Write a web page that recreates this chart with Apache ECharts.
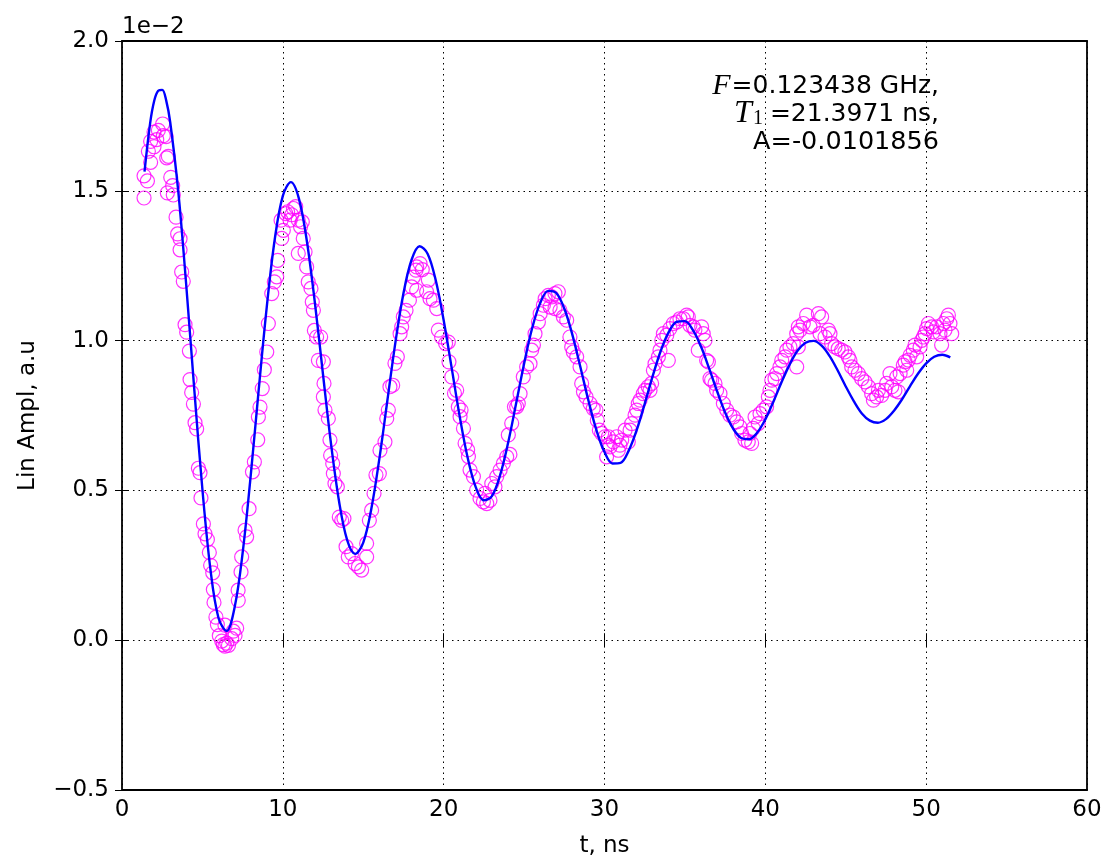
<!DOCTYPE html>
<html>
<head>
<meta charset="utf-8">
<script src="https://cdn.jsdelivr.net/npm/echarts@6/dist/echarts.min.js"></script>
<style>
html,body{margin:0;padding:0;background:#fff;}
#chart{width:1106px;height:859px;}
</style>
</head>
<body>
<div id="chart"></div>
<script>
// Measured data (values in units of 1e-2)
const dataT = [
1.37,1.37,1.58,1.64,1.78,1.78,1.99,1.99,2.16,2.26,2.53,2.57,2.74,2.78,2.82,2.88,3.03,3.15,3.19,3.36,3.46,3.61,3.61,3.71,3.81,3.92,4.02,4.19,4.23,4.33,4.44,4.54,4.64,4.75,4.85,4.91,5.06,5.16,5.31,5.43,5.51,5.64,5.68,5.72,5.84,5.93,6.05,6.20,6.30,
6.40,6.40,6.51,6.62,6.82,6.92,7.03,7.13,7.22,7.23,7.40,7.44,7.65,7.75,7.90,8.11,8.23,8.44,8.48,8.58,8.72,8.85,9.00,9.10,9.31,9.47,9.62,9.68,9.89,9.93,10.03,10.18,10.30,10.45,10.55,10.66,10.80,10.96,10.96,11.10,11.21,11.27,11.38,11.48,11.58,11.75,11.83,11.90,11.96,12.10,12.21,
12.35,12.52,12.56,12.52,12.62,12.83,12.93,12.97,13.10,13.14,13.24,13.39,13.51,13.66,13.80,13.93,14.07,14.28,14.49,14.70,14.90,15.21,15.21,15.38,15.52,15.67,15.79,16.00,16.04,16.35,16.46,16.56,16.66,16.83,16.97,17.12,17.29,17.39,17.49,17.66,17.87,18.01,18.12,18.28,
18.32,18.53,18.67,18.32,18.94,19.05,19.15,19.36,19.57,19.67,19.87,20.12,20.29,20.33,20.50,20.67,20.81,20.91,21.02,21.08,21.23,21.33,21.49,21.54,21.64,21.85,22.05,22.26,22.47,22.57,22.68,22.88,22.99,23.19,23.30,23.51,23.71,23.92,24.02,24.12,24.23,24.40,
24.54,24.64,24.75,24.95,25.16,25.37,25.47,25.58,25.68,25.89,26.00,26.20,26.31,26.51,26.62,26.72,26.92,26.92,27.13,27.23,27.44,27.65,27.85,27.96,28.06,28.27,28.48,28.58,28.69,28.85,29.10,29.30,29.47,29.55,29.68,29.82,30.03,30.13,30.23,
30.24,30.34,30.55,30.76,30.86,30.96,31.07,31.28,31.48,31.59,31.69,31.90,32.00,32.10,32.21,32.41,32.52,32.72,32.83,32.93,33.04,33.14,33.35,33.45,33.56,33.66,33.87,33.97,34.07,34.28,34.49,34.69,34.90,35.11,35.21,35.31,35.52,35.62,35.83,
36.04,36.14,36.25,36.35,36.46,36.56,36.66,36.87,36.97,37.18,37.39,37.60,37.80,38.01,38.22,38.42,38.53,38.73,38.94,39.04,39.15,39.25,39.36,39.56,39.67,39.87,40.08,40.19,40.29,40.40,40.60,40.71,40.91,41.02,41.22,41.33,41.53,41.74,41.95,42.05,
41.95,42.05,42.16,42.36,42.57,42.78,42.98,43.30,43.40,43.50,43.71,43.92,44.02,44.12,44.33,44.53,44.74,44.95,45.16,45.26,45.37,45.57,45.78,45.99,46.20,46.41,46.61,46.72,46.92,47.03,47.23,47.44,47.54,
47.75,47.86,48.06,48.17,48.27,48.38,48.58,48.69,48.79,48.89,49.00,49.20,49.31,49.41,49.62,49.72,49.83,49.93,50.03,50.14,50.34,50.45,50.65,50.86,50.96,51.07,51.17,51.28,51.38,51.48,51.59
];
const dataY = [
1.550,1.476,1.533,1.632,1.595,1.665,1.647,1.696,1.671,1.702,1.723,1.684,1.681,1.610,1.493,1.615,1.545,1.517,1.486,1.412,1.356,1.340,1.303,1.229,1.198,1.053,1.028,0.965,0.870,0.827,0.788,0.726,0.705,0.574,0.559,0.475,0.388,0.355,0.336,0.293,0.250,0.225,0.169,0.126,0.077,0.052,0.015,-0.003,-0.015,
0.050,-0.020,-0.010,-0.017,0.005,0.030,0.016,0.040,0.167,0.133,0.228,0.278,0.367,0.345,0.439,0.562,0.595,0.669,0.745,0.778,0.840,0.903,0.962,1.057,1.157,1.196,1.213,1.268,1.402,1.341,1.368,1.424,1.430,1.402,1.420,1.441,1.447,1.402,1.291,1.380,1.396,1.341,1.296,1.246,1.196,1.174,1.129,1.101,1.034,1.012,0.934,
1.012,0.929,0.857,0.812,0.768,0.740,0.668,0.617,0.590,0.556,0.523,0.512,0.411,0.400,0.406,0.312,0.278,0.289,0.256,0.245,0.234,0.278,0.323,0.400,0.434,0.490,0.551,0.556,0.634,0.662,0.740,0.768,0.846,0.851,0.924,0.946,1.023,1.046,1.079,1.101,1.135,1.179,1.212,1.235,
1.246,1.257,1.237,1.168,1.163,1.202,1.140,1.135,1.107,1.035,1.012,0.990,0.995,0.929,0.879,0.824,0.834,0.779,0.746,0.768,0.707,0.657,0.635,0.613,0.568,0.546,0.501,0.473,0.462,0.490,0.456,0.467,0.523,0.512,0.546,0.568,0.590,0.612,0.685,0.620,0.724,0.779,
0.779,0.790,0.823,0.879,0.912,0.923,0.968,0.985,1.023,1.062,1.090,1.118,1.140,1.151,1.112,1.146,1.157,1.107,1.163,1.101,1.079,1.068,1.012,0.979,0.962,0.946,0.912,0.857,0.829,0.812,0.790,0.773,0.768,0.734,0.701,0.690,0.679,0.612,0.651,
0.679,0.645,0.662,0.679,0.634,0.651,0.668,0.701,0.662,0.701,0.723,0.751,0.768,0.790,0.801,0.823,0.834,0.846,0.834,0.857,0.901,0.923,0.946,0.968,1.001,1.023,1.018,0.934,1.040,1.057,1.062,1.073,1.073,1.085,1.079,1.051,1.046,1.035,0.968,
1.046,1.023,1.001,0.934,0.929,0.873,0.868,0.857,0.834,0.823,0.790,0.768,0.751,0.745,0.729,0.712,0.690,0.668,0.662,0.690,0.657,0.707,0.745,0.723,0.756,0.768,0.779,0.812,0.834,0.868,0.873,0.890,0.912,0.934,0.946,0.968,0.979,0.990,1.023,1.046,
0.912,0.979,1.035,1.057,1.085,1.046,1.051,1.090,1.023,1.079,1.012,1.035,1.023,0.990,0.979,0.973,0.968,0.962,0.946,0.934,0.912,0.901,0.890,0.873,0.862,0.846,0.823,0.801,0.812,0.834,0.817,0.834,0.857,
0.890,0.846,0.834,0.879,0.829,0.890,0.918,0.929,0.901,0.935,0.951,0.968,0.985,0.946,0.979,1.001,1.012,1.023,1.040,1.057,1.046,1.029,1.046,1.023,0.985,1.057,1.035,1.073,1.085,1.057,1.023
];
// Fit curve
const fitT = [1.4,1.75,2.0,2.25,2.5,2.75,3.0,3.5,4.0,4.5,5.0,5.5,6.0,6.5,7.0,7.5,8.0,8.5,9.0,9.5,10.0,10.5,11.0,11.5,12.0,12.5,13.0,13.5,14.0,14.5,15.0,15.5,16.0,16.5,17.0,17.5,18.0,18.5,19.0,19.5,20.0,20.5,21.0,21.5,22.0,22.5,23.0,23.5,24.0,24.5,25.0,25.5,26.0,26.5,27.0,27.5,28.0,28.5,29.0,29.5,30.0,30.5,31.0,31.5,32.0,32.5,33.0,33.5,34.0,34.5,35.0,35.5,36.0,36.5,37.0,37.5,38.0,38.5,39.0,39.5,40.0,40.5,41.0,41.5,42.0,42.5,43.0,43.5,44.0,44.5,45.0,45.5,46.0,46.5,47.0,47.5,48.0,48.5,49.0,49.5,50.0,50.5,51.0,51.5];
const fitY = [1.564,1.726,1.800,1.834,1.837,1.801,1.728,1.497,1.181,0.833,0.503,0.236,0.074,0.031,0.109,0.291,0.548,0.836,1.112,1.339,1.483,1.529,1.474,1.330,1.123,0.886,0.654,0.462,0.334,0.288,0.326,0.438,0.605,0.800,0.994,1.158,1.269,1.315,1.290,1.203,1.068,0.908,0.746,0.607,0.510,0.467,0.481,0.549,0.657,0.789,0.923,1.041,1.125,1.166,1.159,1.107,1.020,0.912,0.800,0.701,0.628,0.590,0.592,0.632,0.701,0.789,0.882,0.966,1.029,1.063,1.065,1.035,0.980,0.908,0.831,0.760,0.706,0.675,0.671,0.693,0.737,0.796,0.860,0.919,0.966,0.993,0.999,0.983,0.948,0.900,0.847,0.798,0.757,0.733,0.726,0.738,0.766,0.804,0.848,0.890,0.924,0.946,0.953,0.944];

const xLabel = 't, ns';
const yLabel = 'Lin Ampl, a.u';
const offsetText = '1e\u22122';

const FONT = 'DejaVu Sans';
const chart = echarts.init(document.getElementById('chart'), null, {renderer:'canvas'});

const scatterData = dataT.map((t,i)=>[t,dataY[i]]);
const fitData = fitT.map((t,i)=>[t,fitY[i]]);

const dotted = {show:true, lineStyle:{color:'#000', width:1, type:[1.5,4]}};
const tickIn = {show:true, inside:true, length:7, lineStyle:{color:'#000', width:1}};
const yFmt = v => { const s = Math.abs(v).toFixed(1); return v < 0 ? '\u2212' + s : s; };

chart.setOption({
  animation:false,
  backgroundColor:'#fff',
  grid:{left:122, right:19, top:41, bottom:69, containLabel:false, outerBoundsMode:'none',
        show:true, borderColor:'#000', borderWidth:1.8, backgroundColor:'transparent'},
  xAxis:[
    {type:'value', min:0, max:60, interval:10, position:'bottom',
     axisLine:{show:false}, axisTick:tickIn,
     axisLabel:{color:'#000', fontFamily:FONT, fontSize:23, margin:9},
     splitLine:dotted,
     name:xLabel, nameLocation:'middle', nameGap:45,
     nameTextStyle:{color:'#000', fontFamily:FONT, fontSize:23}},
    {type:'value', min:0, max:60, interval:10, position:'top',
     axisLine:{show:false}, axisTick:tickIn, axisLabel:{show:false}, splitLine:{show:false}}
  ],
  yAxis:[
    {type:'value', min:-0.5, max:2.0, interval:0.5, position:'left',
     axisLine:{show:false}, axisTick:tickIn,
     axisLabel:{color:'#000', fontFamily:FONT, fontSize:23, margin:13, formatter:yFmt},
     splitLine:dotted,
     name:yLabel, nameLocation:'middle', nameGap:82,
     nameTextStyle:{color:'#000', fontFamily:FONT, fontSize:23}},
    {type:'value', min:-0.5, max:2.0, interval:0.5, position:'right',
     axisLine:{show:false}, axisTick:tickIn, axisLabel:{show:false}, splitLine:{show:false}}
  ],
  series:[
    {type:'scatter', data:scatterData, symbol:'circle', symbolSize:14, z:2,
     itemStyle:{color:'rgba(255,255,255,0)', borderColor:'#ff00ff', borderWidth:1.2},
     emphasis:{disabled:true}, silent:true},
    {type:'line', data:fitData, smooth:0.35, showSymbol:false, symbol:'none', z:3,
     lineStyle:{color:'#0000ff', width:2.4}, emphasis:{disabled:true}, silent:true}
  ],
  graphic:[
    {type:'text', x:122, y:27, silent:true,
     style:{text:offsetText, fill:'#000', font:'23px "DejaVu Sans"', textAlign:'left', textVerticalAlign:'middle'}},
    {type:'text', x:939, y:86, silent:true,
     style:{text:'{it|F}=0.123438 GHz,', fill:'#000', font:'25px "DejaVu Sans"', textAlign:'right', textVerticalAlign:'middle',
       rich:{it:{fontFamily:'Liberation Serif', fontStyle:'italic', fontSize:30, fill:'#000', padding:[0,1,0,0]}}}},
    {type:'text', x:939, y:114, silent:true,
     style:{text:'{it|T}{sub|1}=21.3971 ns,', fill:'#000', font:'25px "DejaVu Sans"', textAlign:'right', textVerticalAlign:'middle',
       rich:{it:{fontFamily:'Liberation Serif', fontStyle:'italic', fontSize:32, fill:'#000', padding:[0,1,0,0]},
             sub:{fontFamily:'Liberation Serif', fontSize:20, fill:'#000', padding:[10,7,0,0]}}}},
    {type:'text', x:939, y:142, silent:true,
     style:{text:'A=-0.0101856', fill:'#000', font:'25.5px "DejaVu Sans"', textAlign:'right', textVerticalAlign:'middle'}}
  ]
});
</script>
</body>
</html>
